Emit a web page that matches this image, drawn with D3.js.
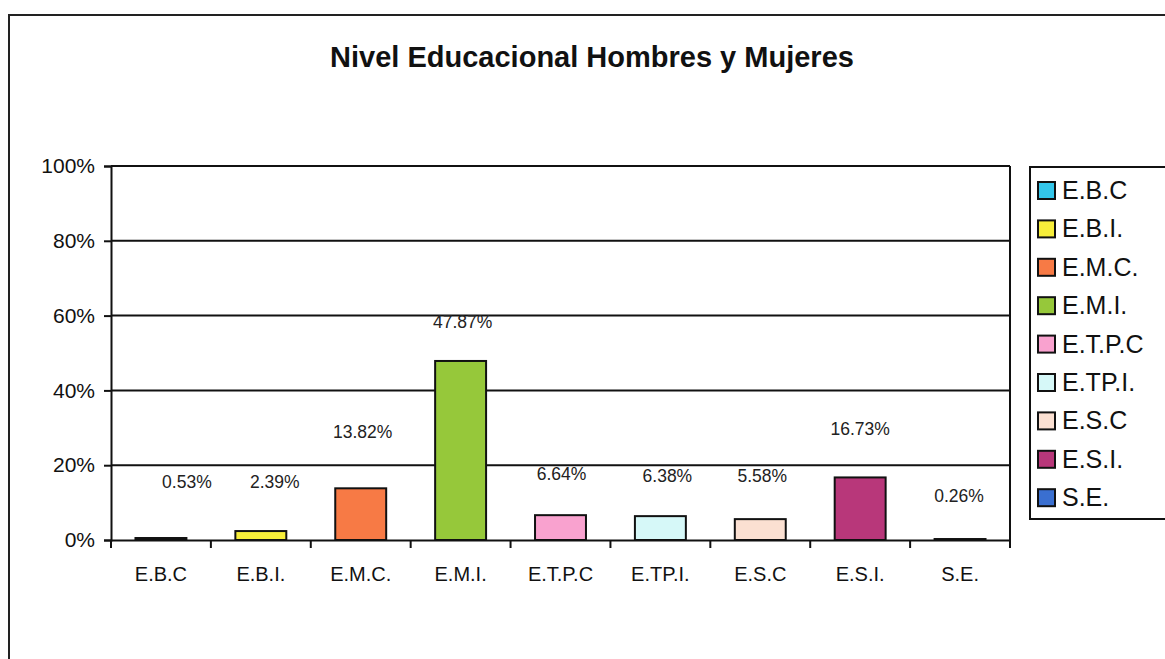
<!DOCTYPE html>
<html>
<head>
<meta charset="utf-8">
<script src="https://cdn.jsdelivr.net/npm/d3@7"></script>
<style>
  html, body { margin: 0; padding: 0; background: #fff; }
  svg { display: block; font-family: "Liberation Sans", Arial, sans-serif; }
</style>
</head>
<body>
<svg id="chart" width="1165" height="659"></svg>
<script>
// ---- data ----
const categories = ["E.B.C", "E.B.I.", "E.M.C.", "E.M.I.", "E.T.P.C", "E.TP.I.", "E.S.C", "E.S.I.", "S.E."];
const values = [0.53, 2.39, 13.82, 47.87, 6.64, 6.38, 5.58, 16.73, 0.26];
const valueLabels = ["0.53%", "2.39%", "13.82%", "47.87%", "6.64%", "6.38%", "5.58%", "16.73%", "0.26%"];
const colors = ["#33C6EA", "#F7EE3A", "#F77A45", "#96C83A", "#F9A2CF", "#D6F8F8", "#FBE0D2", "#B8377A", "#3A6FD0"];
const yTicks = [0, 20, 40, 60, 80, 100];
// label anchor positions (as Excel placed them), expressed in value units / band fractions
const labelAt = [15.5, 15.5, 28.9, 58.3, 17.6, 17.1, 17.1, 29.7, 11.8];
const labelShift = [0.26, 0.14, 0.02, 0.02, 0.01, 0.07, 0.02, 0.0, -0.01];
const title = "Nivel Educacional Hombres y Mujeres";

// ---- layout ----
const svg = d3.select("#chart");
const plot = { left: 111, right: 1010, top: 166, bottom: 540 };

// outer frame
svg.append("rect")
  .attr("x", 9).attr("y", 15).attr("width", 1200).attr("height", 700)
  .attr("fill", "none").attr("stroke", "#222").attr("stroke-width", 2);

// title
svg.append("text")
  .attr("x", 592).attr("y", 67)
  .attr("text-anchor", "middle")
  .attr("font-size", 29).attr("font-weight", "bold").attr("fill", "#111")
  .text(title);

const x = d3.scaleBand().domain(categories).range([plot.left, plot.right]).padding(0);
const y = d3.scaleLinear().domain([0, 100]).range([plot.bottom, plot.top]);

// gridlines
svg.append("g").selectAll("line").data(yTicks.filter(t => t > 0)).join("line")
  .attr("x1", plot.left).attr("x2", plot.right)
  .attr("y1", d => y(d)).attr("y2", d => y(d))
  .attr("stroke", "#111").attr("stroke-width", 2);

// right border of plot area
svg.append("line")
  .attr("x1", plot.right).attr("x2", plot.right)
  .attr("y1", plot.top).attr("y2", plot.bottom)
  .attr("stroke", "#111").attr("stroke-width", 2);

// bars
const barW = x.bandwidth() * 0.51;
svg.append("g").selectAll("rect").data(values).join("rect")
  .attr("x", (d, i) => x(categories[i]) + x.bandwidth() / 2 - barW / 2)
  .attr("y", d => y(d))
  .attr("width", barW)
  .attr("height", d => y(0) - y(d))
  .attr("fill", (d, i) => colors[i])
  .attr("stroke", "#111").attr("stroke-width", 2);

// y axis
const yAxis = svg.append("g")
  .attr("transform", `translate(${plot.left},0)`)
  .call(d3.axisLeft(y).tickValues(yTicks).tickFormat(d => d + "%").tickSize(7).tickPadding(9));
yAxis.select(".domain").attr("stroke", "#111").attr("stroke-width", 2);
yAxis.selectAll(".tick line").attr("stroke", "#111").attr("stroke-width", 2);
yAxis.selectAll(".tick text").attr("font-size", 21).attr("fill", "#111")
  .attr("font-family", "Liberation Sans, Arial, sans-serif");

// x axis
const xAxis = svg.append("g")
  .attr("transform", `translate(0,${plot.bottom})`)
  .call(d3.axisBottom(x).tickSize(0).tickPadding(27));
xAxis.select(".domain").attr("stroke", "#111").attr("stroke-width", 2);
xAxis.selectAll(".tick text").attr("font-size", 20).attr("fill", "#111")
  .attr("font-family", "Liberation Sans, Arial, sans-serif");
// tick marks at category boundaries
svg.append("g").selectAll("line").data(categories.concat([null])).join("line")
  .attr("x1", (d, i) => plot.left + i * x.step())
  .attr("x2", (d, i) => plot.left + i * x.step())
  .attr("y1", plot.bottom).attr("y2", plot.bottom + 8)
  .attr("stroke", "#111").attr("stroke-width", 2);

// value labels
svg.append("g").selectAll("text").data(valueLabels).join("text")
  .attr("x", (d, i) => x(categories[i]) + x.bandwidth() * (0.5 + labelShift[i]))
  .attr("y", (d, i) => y(labelAt[i]))
  .attr("dy", "0.35em")
  .attr("text-anchor", "middle")
  .attr("font-size", 17.5).attr("fill", "#222")
  .text(d => d);

// legend
const legend = svg.append("g");
legend.append("rect")
  .attr("x", 1030).attr("y", 167).attr("width", 160).attr("height", 352)
  .attr("fill", "#fff").attr("stroke", "#111").attr("stroke-width", 2);
const items = legend.selectAll("g.item").data(categories).join("g")
  .attr("class", "item")
  .attr("transform", (d, i) => `translate(1038,${190 + i * 38.4})`);
items.append("rect")
  .attr("x", 0).attr("y", -8).attr("width", 17).attr("height", 17)
  .attr("fill", (d, i) => colors[i]).attr("stroke", "#111").attr("stroke-width", 2);
items.append("text")
  .attr("x", 24).attr("y", 0).attr("dy", "0.36em")
  .attr("font-size", 25).attr("fill", "#111")
  .text(d => d);
</script>
</body>
</html>
